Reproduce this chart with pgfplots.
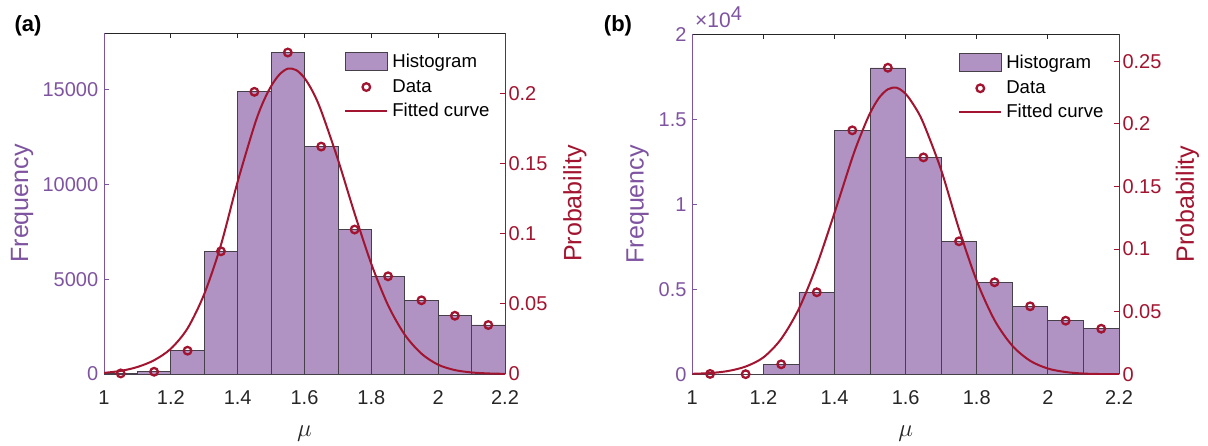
\documentclass[border=0pt]{standalone}
\usepackage{fontspec}
\setmainfont{Liberation Sans}
\usepackage{pgfplots}
\pgfplotsset{compat=1.18}
\definecolor{purp}{RGB}{126,84,160}
\definecolor{barfill}{RGB}{176,147,194}
\definecolor{baredge}{RGB}{70,64,74}
\definecolor{dred}{RGB}{162,20,47}
\definecolor{axgray}{RGB}{38,38,38}
\newcommand{\tickfont}{\fontsize{20}{24}\selectfont}
\newcommand{\labfont}{\fontsize{25}{30}\selectfont}
\newcommand{\legfont}{\fontsize{18.6}{22}\selectfont}
\pgfplotsset{
  common/.style={scale only axis, anchor=south west, xmin=1, xmax=2.2, ymin=0,
    tick align=inside, major tick length=5pt,
    /pgf/number format/assume math mode=true, /pgf/number format/1000 sep={},
    scaled y ticks=false, ticklabel style={font=\tickfont}},
  leftax/.style={common,
    xtick={1,1.2,1.4,1.6,1.8,2,2.2},
    axis x line*=box, axis y line*=left,
    x axis line style={draw=axgray, line width=0.8pt},
    y axis line style={draw=purp, line width=0.8pt},
    xtick style={draw=axgray, line width=0.8pt},
    ytick style={draw=purp, line width=0.8pt},
    yticklabel style={text=purp, xshift=-2.3pt},
    xticklabel style={text=axgray, yshift=-13pt},
    ylabel style={font=\labfont, text=purp, anchor=center},
    xlabel={$\mu$},
    xlabel style={font=\fontsize{24}{28}\selectfont, text=axgray, at={(axis description cs:0.5,-0.175)}, anchor=center}},
  rightax/.style={common,
    axis x line=none, axis y line*=right,
    y axis line style={draw=dred, line width=0.8pt},
    ytick style={draw=dred, line width=0.8pt},
    yticklabel style={text=dred, /pgf/number format/fixed, /pgf/number format/precision=2},
    ylabel={Probability},
    ylabel style={font=\labfont, text=dred, anchor=center},
    legend style={draw=none, fill=none, inner sep=0pt, outer sep=0pt, anchor=north west,
      font=\legfont, row sep=9pt, column sep=4pt, nodes={inner sep=0pt}},
    legend cell align=left},
  histleg/.style={legend image code/.code={\draw[fill=barfill, draw=baredge, line width=0.8pt] (0pt,-9pt) rectangle (42pt,9pt);}},
  dataplot/.style={only marks, mark=o, mark size=3.8pt, dred, line width=2.3pt,
    mark options={line width=2.3pt},
    legend image code/.code={\draw[mark repeat=2, mark phase=2, ##1] plot coordinates {(0pt,0pt) (21pt,0pt) (42pt,0pt)};}},
  fitplot/.style={dred, line width=2pt, smooth, no marks,
    legend image code/.code={\draw[##1] (0pt,0pt) -- (42pt,0pt);}},
  histplot/.style={ybar interval, fill=barfill, draw=baredge, line width=0.8pt}
}
\begin{document}
\begin{tikzpicture}
\path[use as bounding box] (0,0) rectangle (1208pt,445pt);
% ---------------- panel (a) ----------------
\begin{axis}[leftax, at={(104pt,71pt)}, width=401pt, height=341pt, ymax=18000,
  ytick={0,5000,10000,15000}, ylabel={Frequency},
  ylabel style={at={(axis description cs:-0.2045,0.5)}}]
\addplot[histplot] coordinates {(1.0,30) (1.1,120) (1.2,1230) (1.3,6480) (1.4,14900) (1.5,16980) (1.6,12010) (1.7,7630) (1.8,5160) (1.9,3890) (2.0,3080) (2.1,2590) (2.2,2590)};
\end{axis}
\begin{axis}[rightax, at={(104pt,71pt)}, width=401pt, height=341pt, ymax=0.2429,
  ytick={0,0.05,0.1,0.15,0.2},
  ylabel style={at={(axis description cs:1.1746,0.5)}},
  legend style={at={(rel axis cs:0.5993,0.944)}}]
\addlegendimage{histleg}
\addlegendentry{Histogram}
\addplot[dataplot] coordinates {(1.05,0.0004) (1.15,0.0016) (1.25,0.0166) (1.35,0.0874) (1.45,0.2010) (1.55,0.2290) (1.65,0.1620) (1.75,0.1029) (1.85,0.0696) (1.95,0.0525) (2.05,0.0415) (2.15,0.0349)};
\addlegendentry{Data}
\addplot[fitplot] coordinates {(1.00,0.0008) (1.05,0.0022) (1.10,0.0050) (1.15,0.0098) (1.20,0.0180) (1.25,0.0325) (1.30,0.0570) (1.35,0.0920) (1.40,0.1370) (1.45,0.1770) (1.475,0.1930) (1.50,0.2050) (1.525,0.2133) (1.55,0.2175) (1.575,0.2165) (1.60,0.2108) (1.625,0.2010) (1.65,0.1874) (1.70,0.1528) (1.75,0.1143) (1.80,0.0784) (1.85,0.0490) (1.90,0.0280) (1.95,0.0145) (2.00,0.0066) (2.05,0.0028) (2.10,0.0011) (2.15,0.0004) (2.20,0.0001)};
\addlegendentry{Fitted curve}
\end{axis}
% ---------------- panel (b) ----------------
\begin{axis}[leftax, name=bleft, at={(692.3pt,70.7pt)}, width=426.7pt, height=340pt, ymax=20000,
  ytick={0,5000,10000,15000,20000}, yticklabels={0,0.5,1,1.5,2}, ylabel={Frequency},
  ylabel style={at={(axis description cs:-0.1284,0.5)}}]
\addplot[histplot] coordinates {(1.0,20) (1.1,10) (1.2,590) (1.3,4820) (1.4,14340) (1.5,18020) (1.6,12750) (1.7,7817) (1.8,5407) (1.9,3996) (2.0,3150) (2.1,2680) (2.2,2680)};
\end{axis}
\begin{axis}[rightax, at={(692.3pt,70.7pt)}, width=426.7pt, height=340pt, ymax=0.2715,
  ytick={0,0.05,0.1,0.15,0.2,0.25},
  ylabel style={at={(axis description cs:1.1605,0.5)}},
  legend style={at={(rel axis cs:0.6234,0.944)}}]
\addlegendimage{histleg}
\addlegendentry{Histogram}
\addplot[dataplot] coordinates {(1.05,0.0003) (1.15,0.0001) (1.25,0.0080) (1.35,0.0655) (1.45,0.1948) (1.55,0.2448) (1.65,0.1732) (1.75,0.1062) (1.85,0.0735) (1.95,0.0543) (2.05,0.0428) (2.15,0.0364)};
\addlegendentry{Data}
\addplot[fitplot] coordinates {(1.00,0.0004) (1.05,0.0010) (1.10,0.0026) (1.15,0.0062) (1.20,0.0135) (1.25,0.0283) (1.30,0.0525) (1.35,0.0870) (1.40,0.1290) (1.45,0.1730) (1.475,0.1920) (1.50,0.2086) (1.525,0.2207) (1.55,0.2276) (1.575,0.2288) (1.60,0.2239) (1.625,0.2140) (1.65,0.2005) (1.70,0.1630) (1.75,0.1160) (1.80,0.0745) (1.85,0.0432) (1.90,0.0228) (1.95,0.0108) (2.00,0.0046) (2.05,0.0018) (2.10,0.0006) (2.15,0.0002) (2.20,0.0001)};
\addlegendentry{Fitted curve}
\end{axis}
\node[anchor=base west, text=purp, font=\fontsize{21}{25}\selectfont, inner sep=0pt] at (695pt,417pt) {×10\textsuperscript{\fontsize{20}{24}\selectfont 4}};
\node[font=\fontsize{22}{26}\selectfont\bfseries] at (28pt,419pt) {(a)};
\node[font=\fontsize{22}{26}\selectfont\bfseries] at (618pt,419pt) {(b)};
\end{tikzpicture}
\end{document}
